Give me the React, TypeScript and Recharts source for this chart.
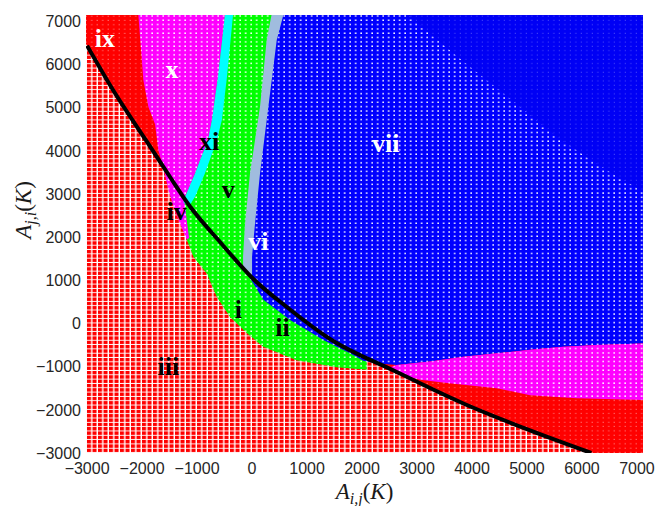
import React from "react"
import { ComposedChart, Area, Line, Scatter, XAxis, YAxis } from "recharts"

type Pt = { x: number; y: number }

const xTicks = [-3000, -2000, -1000, 0, 1000, 2000, 3000, 4000, 5000, 6000, 7000]
const yTicks = [-3000, -2000, -1000, 0, 1000, 2000, 3000, 4000, 5000, 6000, 7000]

// black boundary curve
const thresholdCurve: Pt[] = [
  { x: -3000, y: 6440 },
  { x: -2523, y: 5400 },
  { x: -1916, y: 4220 },
  { x: -1492, y: 3396 },
  { x: -1128, y: 2712 },
  { x: -583, y: 1890 },
  { x: 23, y: 1033 },
  { x: 631, y: 384 },
  { x: 1418, y: -357 },
  { x: 2631, y: -1122 },
  { x: 3843, y: -1852 },
  { x: 5056, y: -2477 },
  { x: 6170, y: -3000 },
]

// region outlines (closed polygons)
const fullPlot: Pt[] = [
  { x: -3020, y: 7150 },
  { x: 7110, y: 7150 },
  { x: 7110, y: -3000 },
  { x: -3020, y: -3000 },
  { x: -3020, y: 7150 },
]

const aboveCurve: Pt[] = [
  { x: -3020, y: 6480 },
  ...thresholdCurve,
  { x: 7110, y: -3000 },
  { x: 7110, y: 7150 },
  { x: -3020, y: 7150 },
  { x: -3020, y: 6480 },
]

const greenRegion: Pt[] = [
  { x: -689, y: 7150 },
  { x: 628, y: 7150 },
  { x: 628, y: 1570 },
  { x: 2087, y: -560 },
  { x: 2087, y: -1070 },
  { x: 1540, y: -1010 },
  { x: 810, y: -850 },
  { x: 202, y: -540 },
  { x: -97, y: -220 },
  { x: -401, y: 150 },
  { x: -643, y: 620 },
  { x: -824, y: 1160 },
  { x: -1068, y: 1550 },
  { x: -1186, y: 1940 },
  { x: -1247, y: 2790 },
  { x: -993, y: 3500 },
  { x: -689, y: 7150 },
]

const magentaTop: Pt[] = [
  { x: -2068, y: 7150 },
  { x: -1976, y: 5630 },
  { x: -1885, y: 5020 },
  { x: -1764, y: 4620 },
  { x: -1703, y: 4010 },
  { x: -1601, y: 3550 },
  { x: -1520, y: 3090 },
  { x: -1399, y: 2590 },
  { x: -1247, y: 2130 },
  { x: -1186, y: 1940 },
  { x: -1145, y: 1980 },
  { x: -1186, y: 2380 },
  { x: -1226, y: 2790 },
  { x: -1219, y: 2940 },
  { x: -1037, y: 3480 },
  { x: -801, y: 4250 },
  { x: -728, y: 4720 },
  { x: -618, y: 5720 },
  { x: -492, y: 7150 },
  { x: -2068, y: 7150 },
]

const cyanBand: Pt[] = [
  { x: -492, y: 7150 },
  { x: -618, y: 5720 },
  { x: -728, y: 4720 },
  { x: -801, y: 4250 },
  { x: -1037, y: 3480 },
  { x: -1219, y: 2940 },
  { x: -1247, y: 2800 },
  { x: -1135, y: 2740 },
  { x: -1037, y: 2940 },
  { x: -856, y: 3480 },
  { x: -639, y: 4250 },
  { x: -548, y: 4720 },
  { x: -456, y: 5720 },
  { x: -346, y: 7150 },
  { x: -492, y: 7150 },
]

const blueRegion: Pt[] = [
  { x: 466, y: 7150 },
  { x: 7110, y: 7150 },
  { x: 7110, y: -460 },
  { x: 6270, y: -500 },
  { x: 5662, y: -540 },
  { x: 5057, y: -610 },
  { x: 4450, y: -690 },
  { x: 3844, y: -770 },
  { x: 3237, y: -880 },
  { x: 2631, y: -960 },
  { x: 2249, y: -920 },
  { x: 2023, y: -860 },
  { x: 1782, y: -690 },
  { x: 1540, y: -540 },
  { x: 1297, y: -380 },
  { x: 995, y: -150 },
  { x: 691, y: 80 },
  { x: 446, y: 320 },
  { x: 205, y: 550 },
  { x: 23, y: 930 },
  { x: -81, y: 1150 },
  { x: -81, y: 1550 },
  { x: -37, y: 2320 },
  { x: 50, y: 3480 },
  { x: 223, y: 5030 },
  { x: 354, y: 6570 },
  { x: 466, y: 7150 },
]

const blueDense: Pt[] = [
  { x: 2837, y: 7150 },
  { x: 7110, y: 7150 },
  { x: 7110, y: 3060 },
  { x: 6536, y: 3480 },
  { x: 5626, y: 4250 },
  { x: 4717, y: 5180 },
  { x: 3807, y: 6110 },
  { x: 2837, y: 7150 },
]

const steelBand: Pt[] = [
  { x: 354, y: 7150 },
  { x: 266, y: 6570 },
  { x: 145, y: 5030 },
  { x: -37, y: 3480 },
  { x: -128, y: 2320 },
  { x: -164, y: 1550 },
  { x: -162, y: 1220 },
  { x: 0, y: 1070 },
  { x: 0, y: 1550 },
  { x: 54, y: 2320 },
  { x: 145, y: 3480 },
  { x: 297, y: 5030 },
  { x: 449, y: 6570 },
  { x: 569, y: 7150 },
  { x: 354, y: 7150 },
]

const magentaBand: Pt[] = [
  { x: 2631, y: -960 },
  { x: 3237, y: -880 },
  { x: 3844, y: -770 },
  { x: 4450, y: -690 },
  { x: 5057, y: -610 },
  { x: 5662, y: -540 },
  { x: 6270, y: -500 },
  { x: 7110, y: -460 },
  { x: 7110, y: -1770 },
  { x: 5906, y: -1730 },
  { x: 5057, y: -1660 },
  { x: 4450, y: -1500 },
  { x: 3542, y: -1380 },
  { x: 3060, y: -1300 },
  { x: 2756, y: -1210 },
  { x: 2452, y: -1040 },
  { x: 2631, y: -960 },
]

// region names (x = centre, y = baseline)
const regionLabels = [
  { x: -2675, y: 6420, label: "ix" },
  { x: -1455, y: 5680, label: "x" },
  { x: -783, y: 4020, label: "xi" },
  { x: -1370, y: 2400, label: "iv" },
  { x: -432, y: 2900, label: "v" },
  { x: 114, y: 1700, label: "vi" },
  { x: 2430, y: 3980, label: "vii" },
  { x: -250, y: 120, label: "i" },
  { x: 554, y: -300, label: "ii" },
  { x: -1523, y: -1190, label: "iii" },
]

const whiteLabels = ["ix", "x", "vi", "vii"]

const fmt = (v: number) => String(v).replace("-", "\u2212")

const tickStyle = { fontSize: 16, fill: "#262626", fontFamily: "Liberation Sans, Arial, sans-serif" }

const renderLabel = (props: any) => {
  const { cx, cy, payload } = props
  return (
    <text
      x={cx}
      y={cy}
      textAnchor="middle"
      fontFamily="Liberation Serif, Times New Roman, serif"
      fontWeight="bold"
      fontSize={26}
      fill={whiteLabels.includes(payload.label) ? "#ffffff" : "#000000"}
    >
      {payload.label}
    </text>
  )
}

const MathTitle = ({ x, y, sub, rotate }: { x: number; y: number; sub: string; rotate?: boolean }) => (
  <text
    x={0}
    y={0}
    transform={`translate(${x},${y})${rotate ? " rotate(-90)" : ""}`}
    textAnchor="middle"
    fontFamily="Liberation Serif, Times New Roman, serif"
    fontSize={23}
    fill="#1a1a1a"
  >
    <tspan fontStyle="italic">A</tspan>
    <tspan fontStyle="italic" fontSize={16} dy={5}>
      {sub}
    </tspan>
    <tspan dy={-5}>(</tspan>
    <tspan fontStyle="italic">K</tspan>
    <tspan>)</tspan>
  </text>
)

const regionArea = (key: string, data: Pt[], fill: string) => (
  <Area
    key={key}
    data={data}
    dataKey="y"
    type="linear"
    stroke="none"
    fill={fill}
    fillOpacity={1}
    dot={false}
    activeDot={false}
    legendType="none"
    isAnimationActive={false}
  />
)

export default function App() {
  const pw = 5.5
  const ph = 4.32
  return (
    <div style={{ position: "absolute", left: 0, top: 0 }}>
      <ComposedChart width={658} height={506} margin={{ top: 15, right: 15, bottom: 0, left: 0 }}>
        <defs>
          <pattern id="redMesh" patternUnits="userSpaceOnUse" x={87} y={21} width={pw} height={ph}>
            <rect width={pw} height={ph} fill="#ffffff" />
            <rect width={4.1} height={3.4} fill="#ff0000" />
          </pattern>
          <pattern id="redDense" patternUnits="userSpaceOnUse" x={87} y={21} width={pw} height={ph}>
            <rect width={pw} height={ph} fill="#ff0000" />
            <rect x={4.2} y={3.3} width={1.1} height={0.9} fill="#ffffff" opacity={0.6} />
          </pattern>
          <pattern id="blueDots" patternUnits="userSpaceOnUse" x={87} y={21} width={pw} height={ph}>
            <rect width={pw} height={ph} fill="#0000ff" />
            <rect x={3.9} y={2.9} width={1.7} height={1.4} fill="#ffffff" />
          </pattern>
          <pattern id="blueDenseDots" patternUnits="userSpaceOnUse" x={87} y={21} width={pw} height={ph}>
            <rect width={pw} height={ph} fill="#0000f5" />
            <rect x={4.4} y={3.3} width={0.9} height={0.7} fill="#ffffff" opacity={0.5} />
          </pattern>
          <pattern id="greenDots" patternUnits="userSpaceOnUse" x={87} y={21} width={pw} height={ph}>
            <rect width={pw} height={ph} fill="#00ff00" />
            <rect x={3.9} y={2.9} width={1.7} height={1.4} fill="#ffffff" />
          </pattern>
          <pattern id="magentaDots" patternUnits="userSpaceOnUse" x={87} y={21} width={pw} height={ph}>
            <rect width={pw} height={ph} fill="#ff00ff" />
            <rect x={3.9} y={2.9} width={1.7} height={1.4} fill="#ffffff" />
          </pattern>
        </defs>
        <XAxis
          type="number"
          dataKey="x"
          domain={[-3020, 7110]}
          ticks={xTicks}
          allowDataOverflow
          axisLine={false}
          tickLine={false}
          tickSize={5}
          tickMargin={5}
          height={53}
          tick={tickStyle}
          tickFormatter={fmt}
          interval={0}
          label={{ content: (p: any) => <MathTitle x={p.viewBox.x + p.viewBox.width / 2} y={p.viewBox.y + 46} sub="i,j" /> }}
        />
        <YAxis
          type="number"
          domain={[-3000, 7150]}
          ticks={yTicks}
          allowDataOverflow
          axisLine={false}
          tickLine={false}
          tickSize={5}
          tickMargin={0}
          width={86}
          tick={tickStyle}
          tickFormatter={fmt}
          interval={0}
          label={{ content: (p: any) => <MathTitle x={31} y={p.viewBox.y + 195} sub="j,i" rotate /> }}
        />
        {regionArea("mesh", fullPlot, "url(#redMesh)")}
        {regionArea("dense", aboveCurve, "url(#redDense)")}
        {regionArea("green", greenRegion, "url(#greenDots)")}
        {regionArea("magTop", magentaTop, "url(#magentaDots)")}
        {regionArea("cyan", cyanBand, "#00ffff")}
        {regionArea("blue", blueRegion, "url(#blueDots)")}
        {regionArea("blueDense", blueDense, "url(#blueDenseDots)")}
        {regionArea("steel", steelBand, "#a0bcde")}
        {regionArea("magBand", magentaBand, "url(#magentaDots)")}
        <Line
          data={thresholdCurve}
          dataKey="y"
          type="monotone"
          stroke="#000000"
          strokeWidth={4}
          dot={false}
          activeDot={false}
          legendType="none"
          isAnimationActive={false}
        />
        <Scatter data={regionLabels} dataKey="y" shape={renderLabel} legendType="none" isAnimationActive={false} />
      </ComposedChart>
    </div>
  )
}
